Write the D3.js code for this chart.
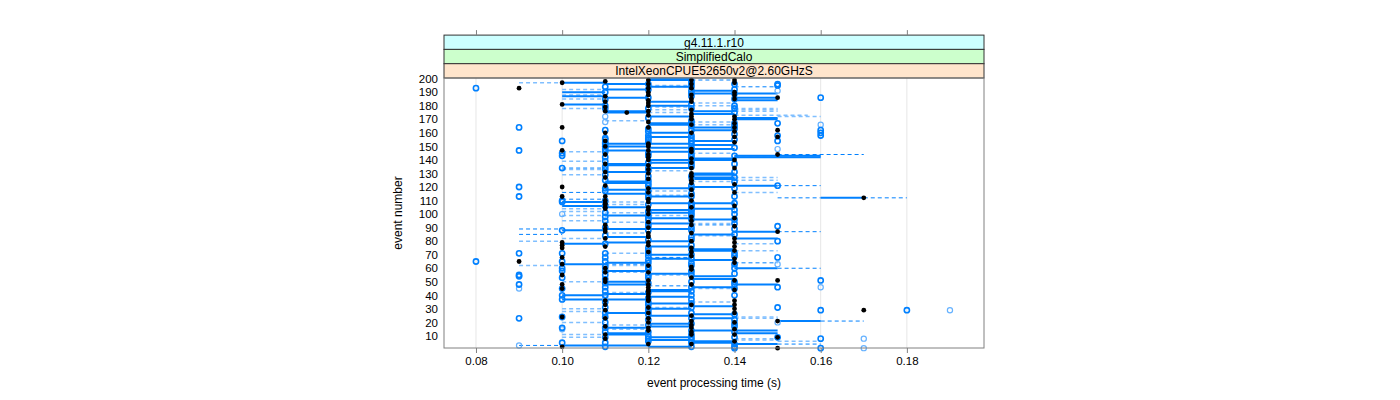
<!DOCTYPE html>
<html><head><meta charset="utf-8">
<script src="https://cdn.jsdelivr.net/npm/d3@7"></script>
<style>body{margin:0;background:#fff}svg{display:block}text{font-family:"Liberation Sans",Arial,sans-serif}</style>
</head><body><svg id="c" width="1400" height="400"></svg>
<script>
const stripLabels = ["g4.11.1.r10", "SimplifiedCalo", "IntelXeonCPUE52650v2@2.60GHzS"];
const stripColors = ["#ccffff", "#ccffcc", "#ffe5cc"];
const xTicks = [0.08, 0.10, 0.12, 0.14, 0.16, 0.18];
const yTicks = [10,20,30,40,50,60,70,80,90,100,110,120,130,140,150,160,170,180,190,200];
const xTitle = "event processing time (s)";
const yTitle = "event number";

// [event, time]
const blackPts = [[197,0.10],[193,0.09],[199,0.12],[199,0.13],[199,0.14],[193,0.12],[193,0.13],[190,0.14],[188,0.12],[188,0.14],[187,0.11],[186,0.15],[185,0.13],[184,0.12],[183,0.11],[183,0.13],[181,0.10],[180,0.12],[176,0.11],[175,0.115],[176,0.12],[173,0.12],[174,0.13],[172,0.13],[172,0.14],[170,0.13],[170,0.14],[164,0.10],[164,0.14],[162,0.15],[161,0.14],[160,0.13],[157,0.14],[157,0.15],[154,0.11],[151,0.12],[147,0.10],[147,0.12],[146,0.13],[144,0.15],[144,0.11],[141,0.13],[140,0.14],[140,0.12],[137,0.11],[136,0.12],[134,0.13],[130,0.12],[130,0.13],[127,0.11],[126,0.12],[125,0.13],[123,0.13],[122,0.14],[121,0.11],[120,0.10],[119,0.12],[118,0.13],[116,0.12],[113,0.10],[113,0.11],[112,0.17],[110,0.13],[109,0.12],[105,0.11],[105,0.12],[152,0.12],[150,0.12],
[108,0.11],[107,0.11],[104,0.11],[103,0.12],[100,0.12],[98,0.13],[95,0.13],[92,0.11],[89,0.11],[87,0.11],[87,0.15],[86,0.13],[84,0.12],[83,0.12],[82,0.14],[79,0.10],[79,0.12],[79,0.14],[77,0.10],[77,0.12],[76,0.14],[75,0.10],[73,0.14],[72,0.13],[69,0.13],[68,0.10],[67,0.14],[65,0.09],[63,0.10],[61,0.13],[57,0.11],[55,0.10],[53,0.13],[52,0.11],[51,0.12],[51,0.14],[51,0.15],[48,0.10],[48,0.12],[46,0.12],[45,0.10],[44,0.12],[41,0.12],[39,0.12],[36,0.11],[36,0.12],[36,0.14],[33,0.14],[30,0.14],[29,0.17],[29,0.11],[25,0.13],[24,0.10],[23,0.11],[21,0.13],[21,0.15],[20,0.12],[16,0.12],[16,0.13],[15,0.14],[11,0.14],[11,0.11],[11,0.13],[9,0.15],[6,0.14],[4,0.12],[2,0.10],[1,0.15],
[196,0.12],[190,0.12],[182,0.12],[168,0.12],[164,0.12],[144,0.12],[142,0.12],[133,0.12],[111,0.12],[94,0.12],[90,0.12],[86,0.12],[72,0.12],[62,0.12],[57,0.12],[43,0.12],[37,0.12],[31,0.12],[27,0.12],[23,0.12],[14,0.12],
[196,0.13],[188,0.13],[177,0.13],[166,0.13],[148,0.13],[138,0.13],[128,0.13],[114,0.13],[105,0.13],[92,0.13],[80,0.13],[75,0.13],[59,0.13],[48,0.13],[33,0.13],[18,0.13],[13,0.13],[4,0.13],
[198,0.11],[179,0.11],[160,0.11],[150,0.11],[131,0.11],[110,0.11],[82,0.11],[76,0.11],[60,0.11],[50,0.11],[33,0.11],[17,0.11],[8,0.11],
[197,0.14],[185,0.14],[167,0.14],[153,0.14],[134,0.14],[116,0.14],[106,0.14],[97,0.14],[91,0.14],[64,0.14],[44,0.14],[27,0.14],[20,0.14]];

const bluePts = [[193,0.08],[164,0.09],[147,0.09],[120,0.09],[113,0.09],[154,0.10],[145,0.10],[143,0.10],[134,0.10],[110,0.10],[196,0.15],[195,0.15],[186,0.16],[190,0.11],[180,0.11],[196,0.12],[198,0.13],[196,0.13],[191,0.13],[189,0.13],[196,0.14],[189,0.14],[167,0.15],[158,0.15],[154,0.15],[162,0.16],[160,0.16],[158,0.16],[121,0.15],[156,0.11],[155,0.11],[153,0.11],[150,0.11],[148,0.11],[146,0.11],[135,0.11],[133,0.11],[125,0.11],[119,0.11],[110,0.11],[158,0.12],[155,0.12],[145,0.12],[134,0.12],[125,0.12],[121,0.12],[112,0.12],[167,0.13],[165,0.13],[162,0.13],[156,0.13],[152,0.13],[149,0.13],[142,0.13],[139,0.13],[137,0.13],[119,0.13],[115,0.13],[108,0.13],[106,0.13],[175,0.14],[167,0.14],[163,0.14],[159,0.14],[127,0.14],
[71,0.09],[55,0.09],[54,0.09],[48,0.09],[23,0.09],[65,0.08],[109,0.10],[88,0.10],[71,0.10],[65,0.10],[60,0.10],[58,0.10],[53,0.10],[45,0.10],[40,0.10],[37,0.10],[24,0.10],[16,0.10],[5,0.10],[98,0.11],[71,0.11],[68,0.11],[58,0.11],[55,0.11],[52,0.11],[43,0.11],[40,0.11],[24,0.11],[16,0.11],[13,0.11],[5,0.11],[102,0.12],[99,0.12],[96,0.12],[93,0.12],[73,0.12],[71,0.12],[64,0.12],[61,0.12],[55,0.12],[33,0.12],[30,0.12],[28,0.12],[13,0.12],[10,0.12],[107,0.13],[104,0.13],[101,0.13],[81,0.13],[67,0.13],[62,0.13],[46,0.13],[40,0.13],[31,0.13],[11,0.13],[9,0.13],[5,0.13],[2,0.13],[100,0.14],[93,0.14],[69,0.14],[63,0.14],[50,0.14],[48,0.14],[22,0.14],[19,0.14],[4,0.14],[1,0.14],[91,0.15],[80,0.15],[68,0.15],[46,0.15],[31,0.15],[9,0.15],[51,0.16],[29,0.16],[8,0.16],[1,0.16],[29,0.18],
[192,0.12],[186,0.12],[178,0.12],[171,0.12],[163,0.12],[161,0.12],[156,0.12],[153,0.12],[143,0.12],[138,0.12],[132,0.12],[128,0.12],[123,0.12],[117,0.12],[114,0.12],[107,0.12],[97,0.12],[91,0.12],[88,0.12],[81,0.12],[75,0.12],[69,0.12],[66,0.12],[59,0.12],[53,0.12],[49,0.12],[42,0.12],[38,0.12],[35,0.12],[26,0.12],[22,0.12],[18,0.12],[8,0.12],[6,0.12],
[194,0.13],[187,0.13],[181,0.13],[178,0.13],[169,0.13],[158,0.13],[154,0.13],[147,0.13],[144,0.13],[135,0.13],[128,0.13],[121,0.13],[113,0.13],[103,0.13],[99,0.13],[96,0.13],[90,0.13],[88,0.13],[83,0.13],[77,0.13],[74,0.13],[70,0.13],[64,0.13],[58,0.13],[55,0.13],[50,0.13],[43,0.13],[37,0.13],[34,0.13],[27,0.13],[23,0.13],[19,0.13],[14,0.13],[7,0.13],
[194,0.11],[185,0.11],[178,0.11],[162,0.11],[152,0.11],[142,0.11],[139,0.11],[129,0.11],[117,0.11],[106,0.11],[101,0.11],[95,0.11],[90,0.11],[84,0.11],[78,0.11],[65,0.11],[61,0.11],[49,0.11],[46,0.11],[35,0.11],[31,0.11],[27,0.11],[20,0.11],[9,0.11],[2,0.11],
[192,0.14],[185,0.14],[180,0.14],[178,0.14],[165,0.14],[155,0.14],[149,0.14],[143,0.14],[137,0.14],[131,0.14],[124,0.14],[119,0.14],[113,0.14],[108,0.14],[103,0.14],[96,0.14],[89,0.14],[85,0.14],[71,0.14],[60,0.14],[56,0.14],[45,0.14],[40,0.14],[26,0.14],[17,0.14],[13,0.14],[9,0.14],[2,0.14]];

const lightPts = [[191,0.15],[172,0.11],[168,0.11],[166,0.16],[148,0.15],[63,0.15],[46,0.16],[45,0.09],[3,0.09],[29,0.19],[20,0.15],[8,0.17],[1,0.17],[184,0.11],[126,0.13],[100,0.10],[57,0.13],[38,0.11],[15,0.10]];

// [event, from, to]
const solidSegs = [[197,0.10,0.11],[200,0.12,0.13],[199,0.12,0.13],[196,0.11,0.12],[192,0.11,0.12],[190,0.10,0.11],[189,0.13,0.15],[187,0.10,0.11],[186,0.14,0.15],[184,0.14,0.15],[183,0.12,0.13],[181,0.10,0.11],[176,0.11,0.12],[175,0.11,0.12],[176,0.13,0.14],[174,0.13,0.14],[171,0.14,0.15],[170,0.14,0.15],[167,0.12,0.13],[166,0.12,0.13],[164,0.13,0.14],[152,0.11,0.12],[152,0.12,0.13],[151,0.13,0.14],[150,0.11,0.12],[149,0.12,0.13],[147,0.11,0.12],[146,0.12,0.13],[143,0.14,0.16],[142,0.14,0.16],[141,0.13,0.14],[140,0.12,0.13],[140,0.13,0.14],[137,0.11,0.12],[136,0.11,0.12],[134,0.12,0.13],[130,0.13,0.14],[129,0.13,0.14],[127,0.13,0.14],[124,0.11,0.12],[123,0.11,0.12],[121,0.14,0.15],[120,0.13,0.14],[119,0.12,0.13],[115,0.11,0.12],[112,0.16,0.17],[109,0.10,0.11],[108,0.12,0.13],[106,0.10,0.11],[105,0.11,0.12],[104,0.13,0.14],
[108,0.13,0.14],[103,0.12,0.13],[99,0.11,0.12],[97,0.12,0.13],[89,0.11,0.12],[89,0.12,0.13],[88,0.10,0.11],[87,0.14,0.15],[83,0.11,0.12],[82,0.14,0.15],[80,0.12,0.13],[78,0.10,0.11],[76,0.12,0.13],[74,0.13,0.14],[73,0.13,0.14],[67,0.12,0.13],[66,0.13,0.14],[63,0.10,0.11],[60,0.14,0.15],[58,0.11,0.12],[56,0.12,0.13],[52,0.13,0.14],[48,0.11,0.12],[48,0.14,0.15],[44,0.12,0.13],[43,0.12,0.13],[40,0.10,0.11],[39,0.12,0.13],[37,0.10,0.11],[37,0.11,0.12],[34,0.12,0.13],[32,0.13,0.14],[27,0.11,0.12],[26,0.13,0.14],[25,0.12,0.13],[21,0.15,0.16],[19,0.12,0.13],[17,0.12,0.13],[14,0.13,0.14],[14,0.14,0.15],[12,0.11,0.12],[12,0.14,0.15],[11,0.11,0.12],[7,0.12,0.13],[6,0.13,0.14],[3,0.10,0.11],[3,0.11,0.12],[4,0.14,0.15],[2,0.12,0.13],
[194,0.12,0.13],[191,0.13,0.14],[186,0.11,0.12],[180,0.12,0.13],[172,0.12,0.13],[162,0.13,0.14],[160,0.12,0.13],[157,0.12,0.13],[154,0.13,0.14],[148,0.13,0.14],[138,0.12,0.13],[131,0.11,0.12],[126,0.13,0.14],[118,0.11,0.12],[113,0.12,0.13],[101,0.12,0.13],[96,0.13,0.14],[93,0.12,0.13],[85,0.13,0.14],[79,0.11,0.12],[70,0.12,0.13],[64,0.11,0.12],[54,0.13,0.14],[50,0.11,0.12],[46,0.13,0.14],[41,0.11,0.12],[30,0.12,0.13],[23,0.13,0.14],[16,0.11,0.12],[9,0.12,0.13],[5,0.13,0.14]];

const dashSegs = [[199,0.13,0.14],[194,0.14,0.15],[144,0.15,0.17],[140,0.13,0.14],[134,0.10,0.11],[121,0.15,0.16],[112,0.15,0.16],[112,0.17,0.18],[89,0.09,0.10],[85,0.09,0.10],[87,0.15,0.16],[60,0.15,0.16],[64,0.14,0.15],[21,0.16,0.17],[4,0.15,0.16],[3,0.09,0.10],[92,0.13,0.14],[116,0.10,0.11],[111,0.10,0.11],[63,0.11,0.12],[68,0.12,0.13],[47,0.12,0.13]];

const lightSegs = [[197,0.09,0.10],[195,0.12,0.13],[192,0.10,0.11],[194,0.12,0.13],[188,0.10,0.11],[185,0.10,0.11],[178,0.10,0.11],[182,0.13,0.14],[180,0.13,0.14],[178,0.14,0.15],[177,0.14,0.15],[176,0.14,0.15],[179,0.12,0.13],[177,0.12,0.13],[175,0.12,0.13],[173,0.14,0.157],[172,0.15,0.16],[169,0.11,0.12],[168,0.13,0.14],[166,0.13,0.14],[146,0.10,0.11],[145,0.13,0.14],[143,0.14,0.16],[139,0.10,0.11],[133,0.10,0.11],[132,0.12,0.13],[129,0.10,0.11],[127,0.14,0.15],[125,0.14,0.15],[124,0.13,0.14],[117,0.12,0.13],[116,0.14,0.15],[114,0.12,0.13],[109,0.11,0.12],[107,0.11,0.12],[104,0.10,0.11],[102,0.10,0.11],[99,0.10,0.11],[95,0.10,0.11],[101,0.11,0.12],[94,0.11,0.12],[86,0.11,0.12],[80,0.09,0.10],[82,0.10,0.11],[78,0.14,0.15],[73,0.14,0.15],[67,0.12,0.13],[62,0.09,0.10],[62,0.11,0.12],[57,0.11,0.12],[50,0.10,0.11],[30,0.10,0.11],[28,0.10,0.11],[24,0.14,0.15],[23,0.14,0.15],[20,0.10,0.11],[18,0.11,0.12],[11,0.10,0.11],[9,0.10,0.11],[8,0.14,0.15],[7,0.14,0.15],[6,0.15,0.16],[99,0.12,0.13],[93,0.13,0.14],[84,0.13,0.14],[71,0.11,0.12],[55,0.12,0.13],[45,0.13,0.14],[42,0.11,0.12],[35,0.13,0.14],[31,0.12,0.13],[15,0.11,0.12]];

const svg = d3.select("#c");
const P = {l:444, r:984, t:78, b:348};
const stripH = 14.3;
const x = d3.scaleLinear().domain([0.07258, 0.1979]).range([P.l, P.r]);
const y = d3.scaleLinear().domain([1.1, 200.5]).range([P.b, P.t]);
const blue = "#0080ff";

// grid
svg.append("g").selectAll("line").data(xTicks).join("line")
  .attr("x1", d=>x(d)).attr("x2", d=>x(d)).attr("y1", P.t).attr("y2", P.b)
  .attr("stroke", "#e6e6e6").attr("stroke-width", 1);

// strips
stripLabels.forEach((lab, i) => {
  const top = P.t - stripH*(3-i);
  svg.append("rect").attr("x", P.l).attr("y", top).attr("width", P.r-P.l).attr("height", stripH)
    .attr("fill", stripColors[i]).attr("stroke", "#333").attr("stroke-width", 1);
  svg.append("text").attr("x", (P.l+P.r)/2).attr("y", top + stripH/2 + 4.3)
    .attr("text-anchor", "middle").attr("font-size", 12).attr("fill", "#000").text(lab);
});

// segments
const segG = svg.append("g");
segG.selectAll("line.l").data(lightSegs).join("line").attr("class","l")
  .attr("x1", d=>x(d[1])).attr("x2", d=>x(d[2])).attr("y1", d=>y(d[0])).attr("y2", d=>y(d[0]))
  .attr("stroke", "#80bfff").attr("stroke-width", 1.5).attr("stroke-dasharray", "4,3");
segG.selectAll("line.d").data(dashSegs).join("line").attr("class","d")
  .attr("x1", d=>x(d[1])).attr("x2", d=>x(d[2])).attr("y1", d=>y(d[0])).attr("y2", d=>y(d[0]))
  .attr("stroke", blue).attr("stroke-width", 1).attr("stroke-dasharray", "4,3");
segG.selectAll("line.s").data(solidSegs).join("line").attr("class","s")
  .attr("x1", d=>x(d[1])).attr("x2", d=>x(d[2])).attr("y1", d=>y(d[0])).attr("y2", d=>y(d[0]))
  .attr("stroke", blue).attr("stroke-width", 2);

// points
const ptG = svg.append("g");
ptG.selectAll("circle.lp").data(lightPts).join("circle").attr("class","lp")
  .attr("cx", d=>x(d[1])).attr("cy", d=>y(d[0])).attr("r", 2.6)
  .attr("fill", "none").attr("stroke", "#66b2ff").attr("stroke-width", 1.2);
ptG.selectAll("circle.bp").data(bluePts).join("circle").attr("class","bp")
  .attr("cx", d=>x(d[1])).attr("cy", d=>y(d[0])).attr("r", 2.6)
  .attr("fill", "none").attr("stroke", blue).attr("stroke-width", 1.6);
ptG.selectAll("circle.kp").data(blackPts).join("circle").attr("class","kp")
  .attr("cx", d=>x(d[1])).attr("cy", d=>y(d[0])).attr("r", 2.4)
  .attr("fill", "#000");

// panel border
svg.append("rect").attr("x", P.l).attr("y", P.t).attr("width", P.r-P.l).attr("height", P.b-P.t)
  .attr("fill", "none").attr("stroke", "#808080").attr("stroke-width", 1);

// axes
const fmt = d3.format(".2f");
const bx = svg.append("g").attr("transform", `translate(0,${P.b})`)
  .call(d3.axisBottom(x).tickValues(xTicks).tickFormat(fmt).tickSize(5).tickPadding(4));
const tx = svg.append("g").attr("transform", `translate(0,${P.t - 3*stripH})`)
  .call(d3.axisTop(x).tickValues(xTicks).tickFormat("").tickSize(5));
const ly = svg.append("g").attr("transform", `translate(${P.l},0)`)
  .call(d3.axisLeft(y).tickValues(yTicks).tickSize(0).tickPadding(6));
[bx, tx, ly].forEach(g => {
  g.select(".domain").remove();
  g.selectAll("line").attr("stroke", "#808080");
  g.selectAll("text").attr("font-size", 11.5).attr("fill", "#000")
    .attr("font-family", '"Liberation Sans",Arial,sans-serif');
});

svg.append("text").attr("x", (P.l+P.r)/2).attr("y", 387).attr("text-anchor", "middle")
  .attr("font-size", 12).text(xTitle);
svg.append("text").attr("transform", `translate(402,${(P.t+P.b)/2}) rotate(-90)`)
  .attr("text-anchor", "middle").attr("font-size", 12).text(yTitle);
</script></body></html>
